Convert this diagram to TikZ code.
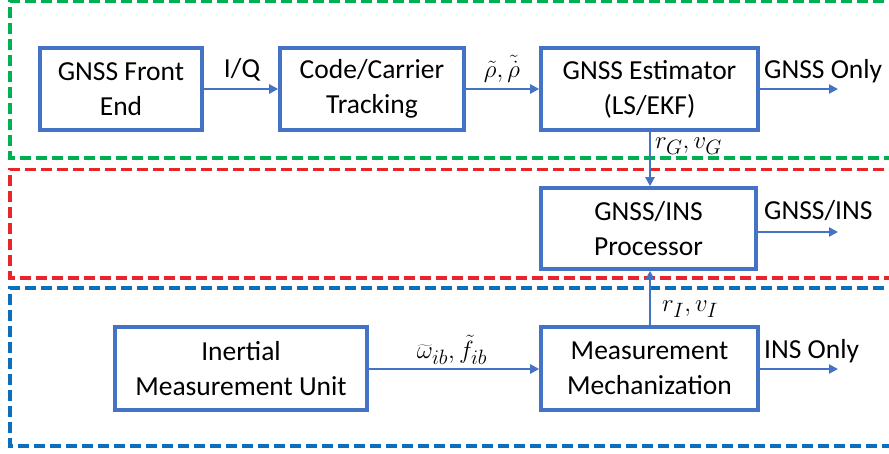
\documentclass[tikz,border=0pt]{standalone}
\usepackage{fontspec}
\setmainfont{Carlito}
\usetikzlibrary{arrows.meta}
\definecolor{boxblue}{HTML}{4472C4}
\definecolor{zonegreen}{HTML}{00B050}
\definecolor{zonered}{HTML}{E8252A}
\definecolor{zoneblue}{HTML}{0B6FBE}
\tikzset{
  blk/.style={draw=boxblue, line width=3.6pt, rectangle, align=center,
    font=\fontsize{27.5}{35}\selectfont, inner sep=0pt},
  flow/.style={draw=boxblue, line width=2.8pt,
    -{Triangle[length=9pt,width=9pt]}},
  lbl/.style={font=\fontsize{27.5}{35}\selectfont, inner sep=0pt},
  zone/.style={line width=3.4pt, dash pattern=on 11pt off 5pt},
}
\begin{document}
\begin{tikzpicture}[x=1pt,y=-1pt]
\useasboundingbox (0,0) rectangle (889,454);
\fill[white] (0,0) rectangle (889,454);

% dashed zones
\draw[zone, zonegreen] (900,1.5) -- (10,1.5) -- (10,158) -- (900,158);
\draw[zone, zonered]   (900,169.5) -- (10,169.5) -- (10,278) -- (900,278);
\draw[zone, zoneblue]  (900,288) -- (10,288) -- (10,446) -- (900,446);

% processing blocks
\node[blk, minimum width=162pt, minimum height=82pt] (fe)  at (121,89)    {GNSS Front\\End};
\node[blk, minimum width=184pt, minimum height=82pt] (trk) at (372,89)    {Code/Carrier\\Tracking};
\node[blk, minimum width=217pt, minimum height=82pt] (est) at (649.5,89)  {GNSS Estimator\\(LS/EKF)};
\node[blk, minimum width=215pt, minimum height=81pt] (proc) at (648.5,228.5) {GNSS/INS\\Processor};
\node[blk, minimum width=252pt, minimum height=83pt] (imu) at (241,368.5) {Inertial\\Measurement Unit};
\node[blk, minimum width=217pt, minimum height=83pt] (mech) at (649.5,368.5) {Measurement\\Mechanization};

% output ends
\coordinate (oG) at (838,89);
\coordinate (oP) at (838,232);
\coordinate (oI) at (838,369);

% connectors
\draw[flow] (fe) -- (trk);
\draw[flow] (trk) -- (est);
\draw[flow] (est.east) -- (oG);
\draw[flow] (est.south -| 650,0) -- (proc.north -| 650,0);
\draw[flow] (mech.north -| 650,0) -- (proc.south -| 650,0);
\draw[flow] (proc.east |- oP) -- (oP);
\draw[flow] (imu.east |- oI) -- (mech.west |- oI);
\draw[flow] (mech.east |- oI) -- (oI);

% labels
\node[lbl] (lIQ) at (242,70) {I/Q};
\node[lbl] (lrho) at (502,69) {$\tilde\rho,\tilde{\dot\rho}$};
\node[lbl, anchor=west] (lGo) at (764,71) {GNSS Only};
\node[lbl, anchor=west] (lGI) at (764,211) {GNSS/INS};
\node[lbl, anchor=west] (lIo) at (764,351) {INS Only};
\node[lbl, anchor=west] (lrG) at (655,146) {$r_G,v_G$};
\node[lbl, anchor=west] (lrI) at (662,309) {$r_I,v_I$};
\node[lbl] (lom) at (452,350) {$\widetilde\omega_{ib},\tilde f_{ib}$};
\end{tikzpicture}
\end{document}
